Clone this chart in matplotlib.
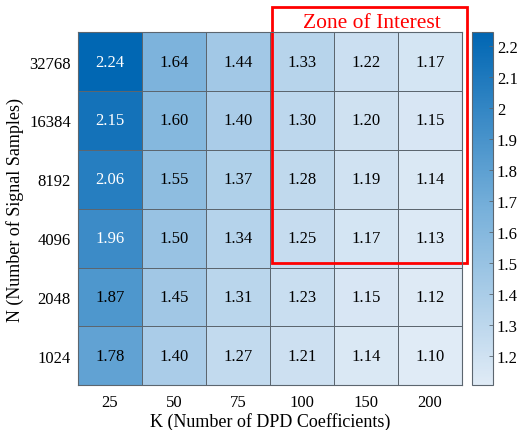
import numpy as np
import matplotlib
matplotlib.use("Agg")
import matplotlib.pyplot as plt
from matplotlib.colors import LinearSegmentedColormap
from matplotlib.patches import Rectangle

plt.rcParams['font.family'] = ['Liberation Serif', 'DejaVu Serif']

k_labels = ['25', '50', '75', '100', '150', '200']
n_labels = ['32768', '16384', '8192', '4096', '2048', '1024']

# rows follow n_labels (top to bottom), columns follow k_labels
values = np.array([
    [2.24, 1.64, 1.44, 1.33, 1.22, 1.17],
    [2.15, 1.60, 1.40, 1.30, 1.20, 1.15],
    [2.06, 1.55, 1.37, 1.28, 1.19, 1.14],
    [1.96, 1.50, 1.34, 1.25, 1.17, 1.13],
    [1.87, 1.45, 1.31, 1.23, 1.15, 1.12],
    [1.78, 1.40, 1.27, 1.21, 1.14, 1.10],
])

cmap = LinearSegmentedColormap.from_list('mblues', ['#e0ebf6', '#77b0da', '#0066b3'])
grid_col = '#5c666f'

fig = plt.figure(figsize=(5.22, 4.31), dpi=100)
ax = fig.add_axes([0.149, 0.104, 0.736, 0.819])
cax = fig.add_axes([0.904, 0.104, 0.040, 0.819])

vmin, vmax = 1.105, 2.245
mesh = ax.pcolormesh(values, cmap=cmap, vmin=vmin, vmax=vmax,
                     edgecolor=grid_col, linewidth=0.6)
ax.set_xlim(0, 6)
ax.set_ylim(6, 0)

for i in range(6):
    for j in range(6):
        v = values[i, j]
        c = 'white' if (v - vmin) / (vmax - vmin) > 0.7 else 'black'
        ax.text(j + 0.5, i + 0.5, f'{v:.2f}', ha='center', va='center',
                fontsize=12, color=c)

ax.set_xticks(np.arange(6) + 0.5)
ax.set_xticklabels(k_labels, fontsize=12)
ax.set_yticks(np.arange(6) + 0.5)
ax.set_yticklabels(n_labels, fontsize=12)
ax.tick_params(axis='x', length=0, pad=6)
ax.tick_params(axis='y', length=0, pad=5)
for s in ax.spines.values():
    s.set_color(grid_col)
    s.set_linewidth(0.8)
ax.set_xlabel('K (Number of DPD Coefficients)', fontsize=13, labelpad=2)
ax.set_ylabel('N (Number of Signal Samples)', fontsize=13, labelpad=4)

cb = fig.colorbar(mesh, cax=cax)
cb.set_ticks([1.2, 1.3, 1.4, 1.5, 1.6, 1.7, 1.8, 1.9, 2.0, 2.1, 2.2])
cb.set_ticklabels(['1.2', '1.3', '1.4', '1.5', '1.6', '1.7', '1.8', '1.9', '2', '2.1', '2.2'])
cb.ax.tick_params(labelsize=12, length=3, width=0.6, direction='in', color=grid_col, pad=3)
cb.outline.set_edgecolor(grid_col)
cb.outline.set_linewidth(0.8)

# zone of interest box
zone = Rectangle((3.03, -0.425), 3.05, 4.355, fill=False, edgecolor='red',
                 linewidth=2, clip_on=False)
ax.add_patch(zone)
ax.text(4.6, -0.16, 'Zone of Interest', ha='center', va='center',
        fontsize=15.5, color='red')

fig.savefig('out.png', dpi=100)
